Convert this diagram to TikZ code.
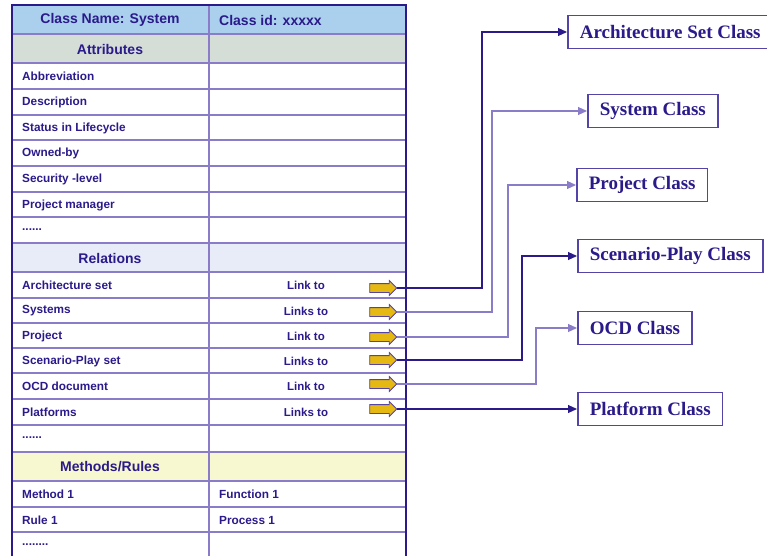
\documentclass[tikz,border=0pt]{standalone}
\usepackage{fontspec}
\setmainfont{Liberation Sans}
\newfontfamily\clsfont{Liberation Serif}
\usetikzlibrary{shapes.arrows, arrows.meta, calc}

\definecolor{navy}{HTML}{2A1A8A}
\definecolor{gridcol}{HTML}{8A7CC8}
\definecolor{headfill}{HTML}{AAD0EE}
\definecolor{attrfill}{HTML}{D4DDD6}
\definecolor{relfill}{HTML}{E8ECF8}
\definecolor{methfill}{HTML}{F8F8D0}
\definecolor{gold}{HTML}{E6B812}
\definecolor{boxline}{HTML}{5444A8}

\tikzset{
  head/.style={font=\bfseries\fontsize{14}{16}\selectfont, text=navy, inner sep=0pt},
  cell/.style={font=\bfseries\fontsize{11.8}{13}\selectfont, text=navy, anchor=west, inner sep=0pt},
  linktext/.style={font=\bfseries\fontsize{11.5}{13}\selectfont, text=navy, inner sep=0pt},
  linkarrow/.style={single arrow, draw=boxline, fill=gold, line width=0.8pt,
    minimum height=27pt, inner xsep=0pt, inner ysep=4pt, single arrow head extend=3pt},
  classbox/.style={draw=boxline, line width=1.6pt, fill=white, text=navy,
    font=\clsfont\bfseries\fontsize{19}{21}\selectfont, minimum height=33pt,
    inner xsep=12pt, anchor=west},
  link/.style={draw=navy, line width=1.1pt, -{Triangle[length=9pt,width=8pt]}},
  linklight/.style={link, draw=gridcol},
}

\begin{document}
\begin{tikzpicture}[x=1pt,y=-1pt]
  \useasboundingbox (0,0) rectangle (767,556);
  \clip (0,0) rectangle (767,556);

  % table background
  \fill[headfill] (12,5) rectangle (406,34);
  \fill[attrfill] (12,34) rectangle (406,63);
  \fill[relfill] (12,243) rectangle (406,272);
  \fill[methfill] (12,452) rectangle (406,481);

  % grid
  \foreach \y in {34,63,89,115,140,166,192,217,243,272,298,323,348,373,399,425,452,481,507,532}
    \draw[gridcol, line width=1.2pt] (12,\y) -- (406,\y);
  \draw[gridcol, line width=1.4pt] (209,5) -- (209,556);
  \draw[navy, line width=2.2pt] (12,556) -- (12,5) -- (406,5) -- (406,556);

  % headers
  \node[head] (cname) at (110,20) {Class Name: System};
  \node[head, anchor=west] (cid) at (219,20) {Class id: xxxxx};
  \node[head] (attr) at (110,49) {Attributes};
  \node[head] (rel) at (110,258) {Relations};
  \node[head] (meth) at (110,467) {Methods/Rules};

  % attributes
  \node[cell] (abbr) at (22,76) {Abbreviation};
  \node[cell] (desc) at (22,102) {Description};
  \node[cell] (stat) at (22,128) {Status in Lifecycle};
  \node[cell] (own) at (22,153) {Owned-by};
  \node[cell] (sec) at (22,179) {Security -level};
  \node[cell] (pm) at (22,205) {Project manager};
  \node[cell] (adots) at (22,230) {......};

  % relations
  \node[cell] (r1) at (22,285) {Architecture set};
  \node[cell] (r2) at (22,311) {Systems};
  \node[cell] (r3) at (22,336) {Project};
  \node[cell] (r4) at (22,361) {Scenario-Play set};
  \node[cell] (r5) at (22,386) {OCD document};
  \node[cell] (r6) at (22,412) {Platforms};
  \node[cell] (rdots) at (22,438) {......};

  \node[linktext] (l1) at (306,285) {Link to};
  \node[linktext] (l2) at (306,311) {Links to};
  \node[linktext] (l3) at (306,336) {Link to};
  \node[linktext] (l4) at (306,361) {Links to};
  \node[linktext] (l5) at (306,386) {Link to};
  \node[linktext] (l6) at (306,412) {Links to};

  % methods
  \node[cell] (m1) at (22,494) {Method 1};
  \node[cell] (m2) at (22,520) {Rule 1};
  \node[cell] (mdots) at (22,545) {........};
  \node[cell] (f1) at (219,494) {Function 1};
  \node[cell] (p1) at (219,520) {Process 1};

  % yellow arrows
  \node[linkarrow] (a1) at (381,288) {};
  \node[linkarrow] (a2) at (381,312) {};
  \node[linkarrow] (a3) at (381,337) {};
  \node[linkarrow] (a4) at (381,360) {};
  \node[linkarrow] (a5) at (381,384) {};
  \node[linkarrow] (a6) at (381,409) {};

  % target classes
  \node[classbox] (arch) at (567,32) {Architecture Set Class};
  \node[classbox] (sys) at (587,111) {System Class};
  \node[classbox] (proj) at (576,185) {Project Class};
  \node[classbox] (scen) at (577,256) {Scenario-Play Class};
  \node[classbox] (ocd) at (577,328) {OCD Class};
  \node[classbox] (plat) at (577,409) {Platform Class};

  % connectors
  \draw[link] (a1.east) -| (482,32) -- (arch.west);
  \draw[linklight] (a2.east) -| (492,111) -- (sys.west);
  \draw[linklight] (a3.east) -| (508,185) -- (proj.west);
  \draw[link] (a4.east) -| (522,256) -- (scen.west);
  \draw[linklight] (a5.east) -| (536,328) -- (ocd.west);
  \draw[link] (a6.east) -- (plat.west);
\end{tikzpicture}
\end{document}
